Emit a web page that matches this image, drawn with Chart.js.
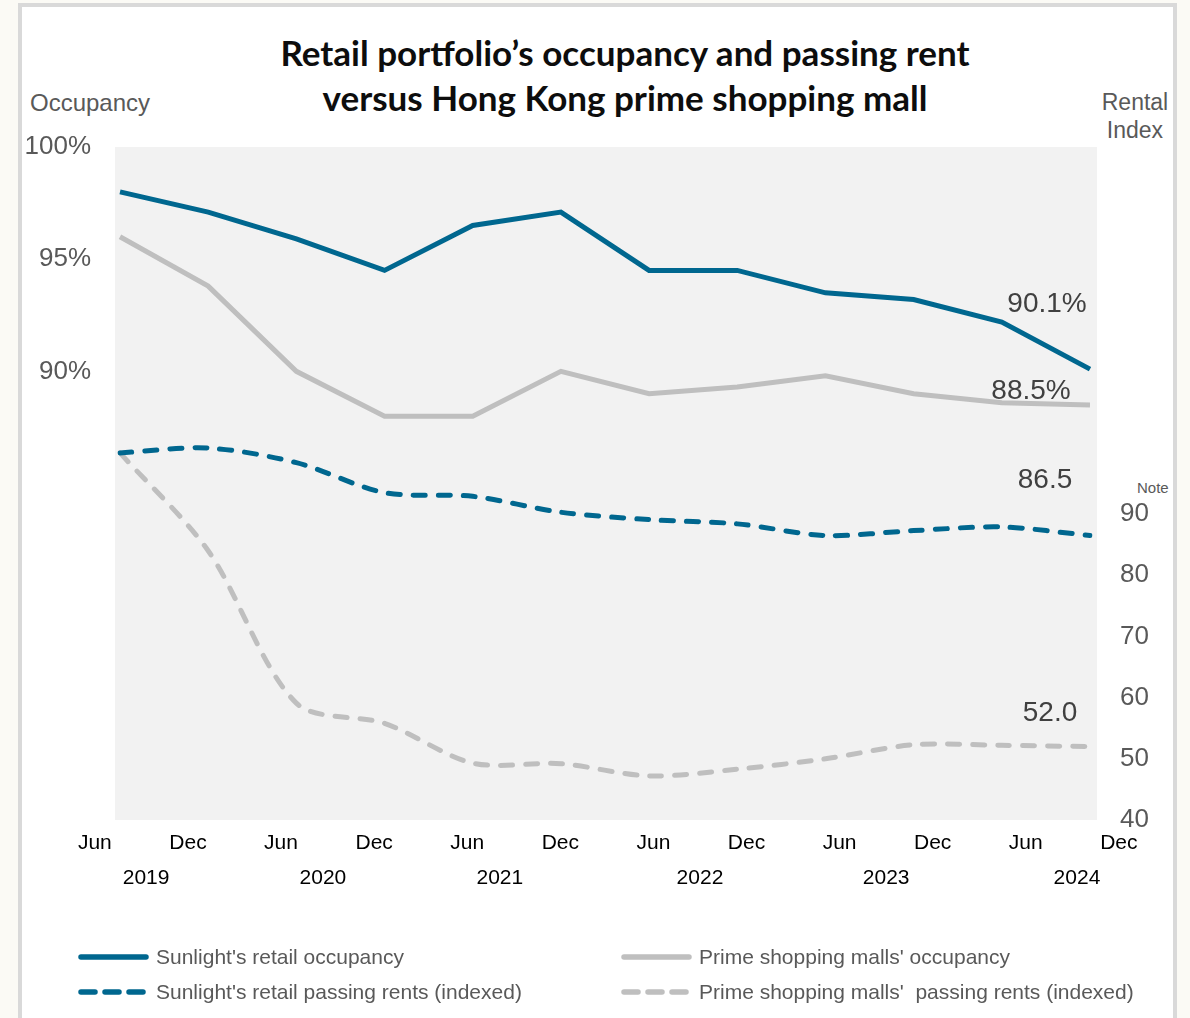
<!DOCTYPE html>
<html>
<head>
<meta charset="utf-8">
<script src="https://cdn.jsdelivr.net/npm/chart.js@4.4.1/dist/chart.umd.min.js"></script>
<style>
  body { margin: 0; width: 1190px; height: 1018px; overflow: hidden; position: relative; background: #fbfaf5; font-family: 'Liberation Sans', Arial, sans-serif; }
  #panel { position: absolute; left: 18px; top: 3px; width: 1151px; height: 1100px; background: #fff; border: 4px solid #d9d9d9; }
  #wrap { position: absolute; left: 0; top: 0; width: 1190px; height: 1018px; }
  #title { position: absolute; left: 125px; top: 30px; width: 1000px; text-align: center; font-family: Lato, 'Open Sans', sans-serif; font-weight: bold; font-size: 35px; line-height: 45px; color: #0d0d0d; }
  .axis-title { position: absolute; color: #595959; font-size: 23px; line-height: 28px; }
  #legend { position: absolute; left: 0; top: 0; }
  .item { position: absolute; display: flex; align-items: center; height: 30px; color: #595959; font-size: 21px; white-space: nowrap; }
  .item svg { margin-right: 7px; }
</style>
</head>
<body>
<div id="panel"></div>
<div id="title">Retail portfolio’s occupancy and passing rent<br>versus Hong Kong prime shopping mall</div>
<div class="axis-title" style="left:30px;top:89px;font-size:24px;">Occupancy</div>
<div class="axis-title" style="left:1085px;top:88px;width:100px;text-align:center;">Rental<br>Index</div>
<div class="axis-title" style="left:1137px;top:479px;font-size:15px;line-height:18px;">Note</div>
<div id="wrap"><canvas id="chart"></canvas></div>
<div id="legend"></div>
<script>
document.addEventListener('DOMContentLoaded', function() {
  // half-year periods, Jun 2019 .. Dec 2024
  const periods = ['Jun 2019', 'Dec 2019', 'Jun 2020', 'Dec 2020', 'Jun 2021', 'Dec 2021',
                   'Jun 2022', 'Dec 2022', 'Jun 2023', 'Dec 2023', 'Jun 2024', 'Dec 2024'];
  const monthLabels = ['Jun', 'Dec', 'Jun', 'Dec', 'Jun', 'Dec', 'Jun', 'Dec', 'Jun', 'Dec', 'Jun', 'Dec'];
  const yearLabels = ['2019', '2020', '2021', '2022', '2023', '2024'];

  const sunlightOccupancy = [98.0, 97.1, 95.9, 94.5, 96.5, 97.1, 94.5, 94.5, 93.5, 93.2, 92.2, 90.1];
  const primeOccupancy = [96.0, 93.8, 90.0, 88.0, 88.0, 90.0, 89.0, 89.3, 89.8, 89.0, 88.6, 88.5];
  const sunlightRents = [100, 100.8, 98.4, 93.5, 92.9, 90.3, 89.1, 88.4, 86.5, 87.3, 87.9, 86.5];
  const primeRents = [100, 84.0, 59.1, 55.8, 49.3, 49.2, 47.2, 48.3, 50.0, 52.3, 52.2, 52.0];

  const occupancyTicks = [90, 95, 100];
  const rentTicks = [40, 50, 60, 70, 80, 90];

  const BLUE = '#00678f';
  const GREY = '#bfbfbf';

  // where the tick labels sit along the label axes (label units, 0 = first Jun)
  const yearTickPos = [0.55, 2.45, 4.35, 6.5, 8.5, 10.55];

  const datasets = [
    { label: "Sunlight's retail occupancy", data: sunlightOccupancy, yAxisID: 'y', borderColor: BLUE, dash: [], end: v => v.toFixed(1) + '%', endOffset: [-43, -65], tension: 0 },
    { label: "Sunlight's retail passing rents (indexed)", data: sunlightRents, yAxisID: 'y1', borderColor: BLUE, dash: [12, 13], end: v => v.toFixed(1), endOffset: [-45, -55], tension: 0.3 },
    { label: "Prime shopping malls' occupancy", data: primeOccupancy, yAxisID: 'y', borderColor: GREY, dash: [], end: v => v.toFixed(1) + '%', endOffset: [-59, -14], tension: 0 },
    { label: "Prime shopping malls'  passing rents (indexed)", data: primeRents, yAxisID: 'y1', borderColor: GREY, dash: [12, 13], end: v => v.toFixed(1), endOffset: [-40, -33], tension: 0.3 }
  ];

  const plotBackground = {
    id: 'plotBackground',
    beforeDraw(chart) {
      const { ctx, chartArea: a } = chart;
      ctx.save();
      ctx.fillStyle = '#f2f2f2';
      ctx.fillRect(a.left - 5, a.top, a.right - a.left + 12, a.bottom - a.top);
      ctx.restore();
    }
  };

  const endLabels = {
    id: 'endLabels',
    afterDatasetsDraw(chart) {
      const ctx = chart.ctx;
      ctx.save();
      ctx.font = '28px "Liberation Sans", Arial, sans-serif';
      ctx.fillStyle = '#404040';
      ctx.textAlign = 'center';
      ctx.textBaseline = 'middle';
      chart.data.datasets.forEach((ds, i) => {
        const pts = chart.getDatasetMeta(i).data;
        const p = pts[pts.length - 1];
        const v = ds.data[ds.data.length - 1];
        ctx.fillText(ds.end(v), p.x + ds.endOffset[0], p.y + ds.endOffset[1]);
      });
      ctx.restore();
    }
  };

  const labelAxis = (weight, labels, positions, padding) => ({
    type: 'linear',
    position: 'bottom',
    weight: weight,
    min: 0.27,
    max: 10.69,
    bounds: 'data',
    grid: { display: false, drawTicks: false },
    border: { display: false },
    afterBuildTicks: axis => { axis.ticks = positions.map(p => ({ value: p })); },
    afterFit: axis => { axis.height = 36; },
    ticks: {
      autoSkip: false, maxRotation: 0, minRotation: 0, padding: padding,
      color: '#000', font: { size: 21, family: '"Liberation Sans", Arial, sans-serif' },
      callback: (v, i) => labels[i]
    }
  });

  const tickFont = { size: 26, family: '"Liberation Sans", Arial, sans-serif' };

  new Chart(document.getElementById('chart'), {
    type: 'line',
    data: {
      labels: periods,
      datasets: datasets.map(d => ({
        label: d.label, data: d.data, yAxisID: d.yAxisID, xAxisID: 'x',
        borderColor: d.borderColor, backgroundColor: d.borderColor,
        borderWidth: 5, borderDash: d.dash, borderCapStyle: d.dash.length ? 'round' : 'butt',
        pointRadius: 0, tension: d.tension, fill: false,
        end: d.end, endOffset: d.endOffset
      }))
    },
    options: {
      responsive: true,
      maintainAspectRatio: false,
      animation: false,
      layout: { padding: { top: 147, bottom: 126, left: 0, right: 0 } },
      plugins: { legend: { display: false }, title: { display: false }, tooltip: { enabled: false } },
      scales: {
        x: { type: 'category', display: false },
        xm: labelAxis(0, monthLabels, monthLabels.map((m, i) => i), 11),
        xy: labelAxis(1, yearLabels, yearTickPos, 10),
        y: {
          position: 'left', min: 70, max: 100,
          grid: { display: false }, border: { display: false },
          afterFit: axis => { axis.width = 120; },
          afterBuildTicks: axis => { axis.ticks = occupancyTicks.map(v => ({ value: v })); },
          ticks: { padding: 21, color: '#595959', font: tickFont, callback: v => v + '%' }
        },
        y1: {
          position: 'right', min: 40, max: 150,
          grid: { display: false }, border: { display: false },
          afterFit: axis => { axis.width = 100; },
          afterBuildTicks: axis => { axis.ticks = rentTicks.map(v => ({ value: v })); },
          ticks: { padding: 22, color: '#595959', font: tickFont, callback: v => v }
        }
      }
    },
    plugins: [plotBackground, endLabels]
  });

  // legend: two columns, two rows
  const legend = document.getElementById('legend');
  const slots = [[78, 942], [78, 977], [621, 942], [621, 977]];
  datasets.forEach((d, i) => {
    const item = document.createElement('div');
    item.className = 'item';
    item.style.left = slots[i][0] + 'px';
    item.style.top = slots[i][1] + 'px';
    const dash = d.dash.length ? 'stroke-dasharray="14 10"' : '';
    item.innerHTML = `<svg width="71" height="10"><line x1="3" y1="5" x2="68" y2="5" stroke="${d.borderColor}" stroke-width="5.5" stroke-linecap="round" ${dash}/></svg><span>${d.label.replace(/ /g, '&nbsp;')}</span>`;
    legend.appendChild(item);
  });
});
</script>
</body>
</html>
